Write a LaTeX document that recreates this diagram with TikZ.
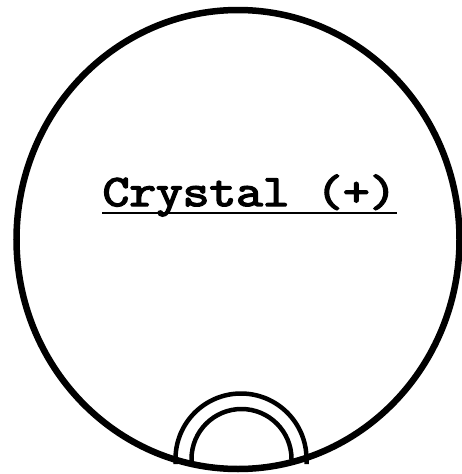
\documentclass[tikz,border=0pt]{standalone}
\usepackage{fontspec}
\newfontfamily\courfont[AutoFakeBold=3.2]{Latin Modern Mono}
\begin{document}
\begin{tikzpicture}[x=1pt,y=-1pt,
  outline/.style={line width=6.5pt,draw=black},
  archline/.style={line width=4.5pt,draw=black},
  labeltext/.style={inner sep=0pt,font=\courfont\bfseries\fontsize{45}{50}\selectfont,anchor=base,xscale=1.152,transform shape}]
\useasboundingbox (0,0) rectangle (462,474);
% arches at the bottom
\draw[archline] (175.5,464) -- (175.5,459) arc[start angle=180,end angle=0,x radius=65.5,y radius=-65.5] -- (306.5,464);
\draw[archline] (191.5,464) -- (191.5,459) arc[start angle=180,end angle=0,x radius=50,y radius=-50] -- (291.5,464);
% main circle
\draw[outline] (238,239.5) ellipse[x radius=221.5,y radius=229.5];
% label
\node[labeltext] (lbl) at (249.5,206) {Crystal (+)};
\draw[line width=2pt] ([yshift=-6.5pt]lbl.base west) -- ([yshift=-6.5pt]lbl.base east);
\end{tikzpicture}
\end{document}
